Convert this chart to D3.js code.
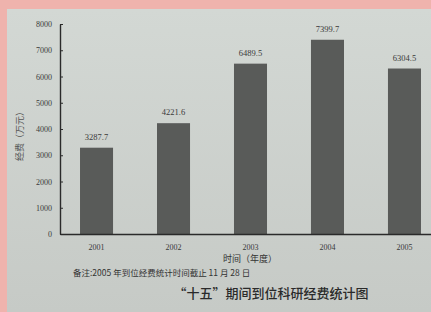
<!DOCTYPE html>
<html>
<head>
<meta charset="utf-8">
<script src="https://cdn.jsdelivr.net/npm/d3@7/dist/d3.min.js"></script>
<style>
  html, body { margin: 0; padding: 0; background: #cfd4d0; }
  svg { display: block; }
</style>
</head>
<body>
<script>
const years = ["2001", "2002", "2003", "2004", "2005"];
const funds = [3287.7, 4221.6, 6489.5, 7399.7, 6304.5];
const valueLabels = ["3287.7", "4221.6", "6489.5", "7399.7", "6304.5"];
const yTicks = [0, 1000, 2000, 3000, 4000, 5000, 6000, 7000, 8000];
const yTitle = "经费（万元）";
const xTitle = "时间（年度）";
const note = "备注:2005 年到位经费统计时间截止 11 月 28 日";
const title = "“十五”期间到位科研经费统计图";

const W = 431, H = 312;
const svg = d3.select("body").append("svg").attr("width", W).attr("height", H);

// paper background with pink frame
svg.append("rect").attr("width", W).attr("height", H).attr("fill", "#efb3ad");
const grad = svg.append("defs").append("linearGradient").attr("id", "bg")
  .attr("x1", 0).attr("y1", 0).attr("x2", 0).attr("y2", 1);
grad.append("stop").attr("offset", "0%").attr("stop-color", "#d3d8d4");
grad.append("stop").attr("offset", "100%").attr("stop-color", "#c6cac6");
svg.append("rect").attr("x", 7).attr("y", 9).attr("width", W - 7).attr("height", H - 9)
  .attr("fill", "url(#bg)");

const serif = "'Liberation Serif', 'DejaVu Serif', serif";
const cjk = "'Noto Sans CJK SC', sans-serif";

const x = d3.scaleBand().domain(years).range([60, 441]).paddingInner(0.571).paddingOuter(0.26);
const y = d3.scaleLinear().domain([0, 8000]).range([234, 24]);

// bars
svg.append("g").selectAll("rect").data(funds).join("rect")
  .attr("x", (d, i) => x(years[i]))
  .attr("y", d => y(d))
  .attr("width", x.bandwidth())
  .attr("height", d => y(0) - y(d))
  .attr("fill", "#595b59");

// value labels
svg.append("g").selectAll("text").data(funds).join("text")
  .attr("x", (d, i) => x(years[i]) + x.bandwidth() / 2)
  .attr("y", d => y(d) - 8)
  .attr("text-anchor", "middle")
  .attr("font-family", serif).attr("font-size", 8.5)
  .attr("fill", "#3a3a3a")
  .text((d, i) => valueLabels[i]);

// y axis
const yAxis = svg.append("g").attr("transform", "translate(60,0)")
  .call(d3.axisLeft(y).tickValues(yTicks).tickFormat(d3.format("d"))
    .tickSizeInner(-3).tickSizeOuter(0).tickPadding(8));
yAxis.select(".domain").attr("stroke", "#2a2a2a").attr("stroke-width", 1.4);
yAxis.selectAll(".tick line").attr("stroke", "#2a2a2a");
yAxis.selectAll("text").attr("font-family", serif).attr("font-size", 8).attr("fill", "#3a3a3a");

// x axis
const xAxis = svg.append("g").attr("transform", "translate(0,234)")
  .call(d3.axisBottom(x).tickSize(0).tickPadding(10));
xAxis.select(".domain").attr("stroke", "#2a2a2a").attr("stroke-width", 1.4);
xAxis.selectAll("text").attr("font-family", serif).attr("font-size", 8).attr("fill", "#3a3a3a");

// axis titles
svg.append("text").attr("transform", "translate(23,134) rotate(-90)")
  .attr("text-anchor", "middle").attr("font-family", cjk).attr("font-size", 9)
  .attr("fill", "#555").text(yTitle);
svg.append("text").attr("x", 250).attr("y", 262)
  .attr("text-anchor", "middle").attr("font-family", cjk).attr("font-size", 9)
  .attr("fill", "#333").text(xTitle);

// note & title
svg.append("text").attr("x", 73).attr("y", 276)
  .attr("font-family", cjk).attr("font-size", 8.5)
  .attr("fill", "#333").text(note);
svg.append("text").attr("x", 271).attr("y", 298)
  .attr("text-anchor", "middle").attr("font-family", cjk).attr("font-size", 13)
  .attr("font-weight", 500)
  .attr("fill", "#2a2a2a").text(title);
</script>
</body>
</html>
